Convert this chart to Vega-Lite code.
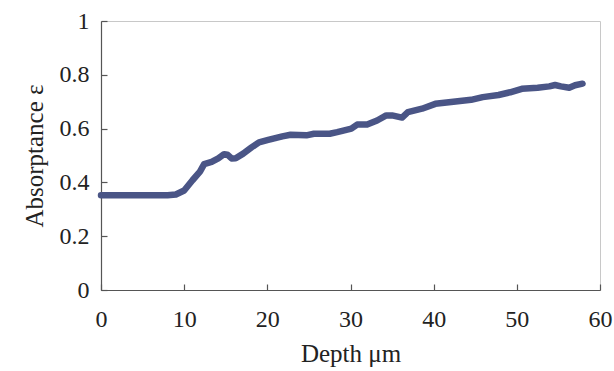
{
  "$schema": "https://vega.github.io/schema/vega-lite/v6.json",
  "autosize": "none",
  "width": 499,
  "height": 269,
  "padding": {"left": 101, "top": 21, "right": 14, "bottom": 81},
  "background": "white",
  "config": {
    "view": {"stroke": "#c8c8c8", "strokeWidth": 1},
    "axis": {
      "grid": false,
      "labelFont": "Times New Roman",
      "titleFont": "Times New Roman",
      "labelFontSize": 24,
      "titleFontSize": 25,
      "labelColor": "#222",
      "titleColor": "#222",
      "titleFontWeight": "normal",
      "domainColor": "#555",
      "tickColor": "#555",
      "domainWidth": 1.2,
      "tickWidth": 1.2,
      "labelFlush": false
    }
  },
  "data": {
    "values": [
      {"depth": 0, "abs": 0.352},
      {"depth": 2, "abs": 0.352},
      {"depth": 4, "abs": 0.352},
      {"depth": 6, "abs": 0.352},
      {"depth": 8, "abs": 0.352},
      {"depth": 9, "abs": 0.355},
      {"depth": 10, "abs": 0.37},
      {"depth": 11, "abs": 0.408},
      {"depth": 11.9, "abs": 0.44},
      {"depth": 12.4, "abs": 0.468},
      {"depth": 13.3, "abs": 0.476},
      {"depth": 14.1, "abs": 0.489},
      {"depth": 14.8, "abs": 0.505},
      {"depth": 15.2, "abs": 0.503},
      {"depth": 15.7, "abs": 0.489},
      {"depth": 16.2, "abs": 0.49},
      {"depth": 17.1, "abs": 0.507},
      {"depth": 18.1, "abs": 0.53},
      {"depth": 19.0, "abs": 0.549},
      {"depth": 20.1, "abs": 0.558},
      {"depth": 21.8, "abs": 0.571},
      {"depth": 22.8, "abs": 0.577},
      {"depth": 24.7, "abs": 0.575},
      {"depth": 25.6, "abs": 0.581},
      {"depth": 27.5, "abs": 0.581},
      {"depth": 28.4, "abs": 0.587},
      {"depth": 30.1, "abs": 0.6},
      {"depth": 30.8, "abs": 0.615},
      {"depth": 32.0, "abs": 0.615},
      {"depth": 33.2, "abs": 0.63},
      {"depth": 34.3, "abs": 0.649},
      {"depth": 35.0, "abs": 0.649},
      {"depth": 36.2, "abs": 0.641},
      {"depth": 36.9, "abs": 0.661},
      {"depth": 38.6, "abs": 0.674},
      {"depth": 40.2, "abs": 0.692},
      {"depth": 42.1, "abs": 0.699},
      {"depth": 44.5, "abs": 0.707},
      {"depth": 45.9, "abs": 0.717},
      {"depth": 47.8, "abs": 0.725},
      {"depth": 49.2, "abs": 0.735},
      {"depth": 50.6, "abs": 0.748},
      {"depth": 52.5, "abs": 0.752},
      {"depth": 53.9, "abs": 0.757},
      {"depth": 54.6, "abs": 0.762},
      {"depth": 55.3, "abs": 0.757},
      {"depth": 56.3, "abs": 0.752},
      {"depth": 57.0, "abs": 0.761},
      {"depth": 57.9, "abs": 0.767}
    ]
  },
  "mark": {"type": "line", "color": "#4a5586", "strokeWidth": 6.5, "strokeCap": "round", "strokeJoin": "round"},
  "encoding": {
    "x": {
      "field": "depth",
      "type": "quantitative",
      "scale": {"domain": [0, 60], "nice": false},
      "axis": {"values": [0, 10, 20, 30, 40, 50, 60], "tickSize": -6, "labelPadding": 23, "title": "Depth  μm", "titlePadding": 10}
    },
    "y": {
      "field": "abs",
      "type": "quantitative",
      "scale": {"domain": [0, 1], "nice": false},
      "axis": {"values": [0, 0.2, 0.4, 0.6, 0.8, 1], "format": "~g", "tickSize": -6, "labelPadding": 18, "title": "Absorptance   ε", "titlePadding": 12}
    }
  }
}
